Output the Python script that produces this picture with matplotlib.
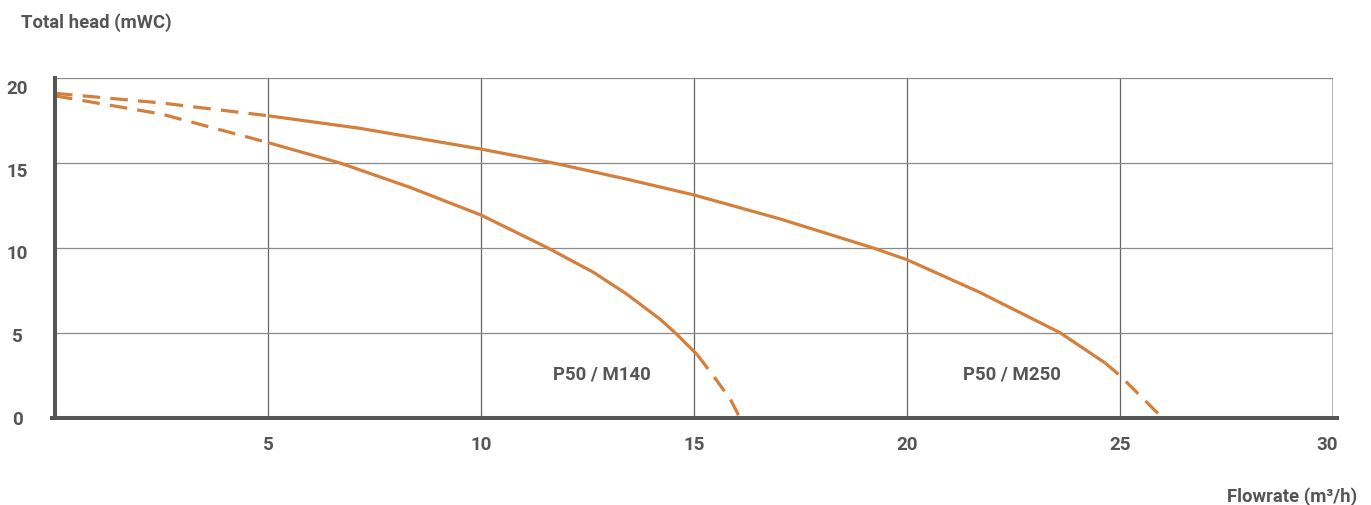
import matplotlib
matplotlib.use("Agg")
import matplotlib.pyplot as plt
import matplotlib.transforms as mtransforms
import numpy as np

plt.rcParams['font.family'] = ['Roboto', 'DejaVu Sans']

# ---- data ----
x_m250 = [0, 2.5, 5, 7.16, 10, 11.70, 13.42, 15, 17.02, 19.21, 20, 21.71, 23.59, 24.65, 25, 26.0]
y_m250 = [19.1, 18.53, 17.78, 17.04, 15.82, 15.0, 14.05, 13.12, 11.71, 10.0, 9.31, 7.39, 5.02, 3.24, 2.49, 0.0]

x_m140 = [0, 2.5, 5, 6.69, 8.33, 10, 11.54, 12.64, 13.42, 14.20, 14.59, 15.08, 15.45, 15.85, 16.08]
y_m140 = [18.95, 17.88, 16.2, 15.0, 13.57, 11.94, 10.04, 8.57, 7.29, 5.82, 4.94, 3.71, 2.49, 1.12, 0.0]

# solid (measured) range of each curve; outside is dashed
solid_m250 = (5, 24.65)
solid_m140 = (5, 15.08)

labels = ["P50 / M140", "P50 / M250"]
label_pos_x = [11.69, 21.31]
label_pos_y = [2.62, 2.62]

x_ticks = [5, 10, 15, 20, 25, 30]
y_ticks = [0, 5, 10, 15, 20]

ORANGE = '#D4803C'
DARK = '#555555'

fig = plt.figure(figsize=(13.71, 5.06), dpi=100)
ax = fig.add_axes([55/1371, 1-419/506, (1333-55)/1371, (419-79)/506])

def draw_curve(xs, ys, solid):
    xs = np.asarray(xs, float)
    ys = np.asarray(ys, float)
    lo, hi = solid
    m1 = xs <= lo
    m2 = (xs >= lo) & (xs <= hi)
    m3 = xs >= hi
    kw = dict(color=ORANGE, lw=2.3, solid_capstyle='butt', dash_capstyle='butt',
              solid_joinstyle='round')
    ax.plot(xs[m1], ys[m1], ls=(0, (5.5, 3.2)), **kw)
    ax.plot(xs[m2], ys[m2], ls='-', **kw)
    ax.plot(xs[m3], ys[m3], ls=(0, (5.5, 3.2)), **kw)

draw_curve(x_m250, y_m250, solid_m250)
draw_curve(x_m140, y_m140, solid_m140)

for t, lx, ly in zip(labels, label_pos_x, label_pos_y):
    ax.text(lx, ly, t, fontsize=13.4, fontweight='bold', color=DARK, ha='left', va='center')

ax.set_xlim(0, 30)
ax.set_ylim(0, 20)
ax.set_xticks(x_ticks)
ax.set_yticks(y_ticks)
ax.set_xticklabels([str(v) for v in x_ticks], fontsize=13.5, fontweight='bold', color=DARK)
ax.set_yticklabels([str(v) for v in y_ticks], fontsize=13.5, fontweight='bold', color=DARK, ha='center')
ax.tick_params(axis='x', length=0, pad=12.5)
ax.tick_params(axis='y', length=0, pad=27.2)
for v, lab in zip(y_ticks, ax.get_yticklabels()):
    down = -1.2 + 0.45 * v
    off = mtransforms.ScaledTranslation(0, -down/100, fig.dpi_scale_trans)
    lab.set_transform(lab.get_transform() + off)
xl = ax.get_xticklabels()[-1]
xl.set_transform(xl.get_transform() + mtransforms.ScaledTranslation(-6/100, 0, fig.dpi_scale_trans))

# grid
for v in x_ticks[:-1]:
    ax.axvline(v, color='#666666', lw=0.9, zorder=0)
ax.axvline(30, color='#aaaaaa', lw=1.2, zorder=0)
for v in y_ticks[1:]:
    ax.axhline(v, color='#8a8a8a', lw=0.9, zorder=0)

for s in ['top', 'right']:
    ax.spines[s].set_visible(False)
ax.spines['left'].set_color(DARK)
ax.spines['left'].set_linewidth(2.9)
ax.spines['bottom'].set_color(DARK)
ax.spines['bottom'].set_linewidth(2.9)
ax.spines['bottom'].set_bounds(-0.07, 30.1)
ax.set_axisbelow(True)

fig.text(21/1371, 1-23/506, "Total head (mWC)", fontsize=13.3, fontweight='bold', color=DARK, ha='left', va='center')
fig.text(1357/1371, 1-497/506, "Flowrate (m³/h)", fontsize=13.3, fontweight='bold', color=DARK, ha='right', va='center')

fig.savefig("out.png", dpi=100)
